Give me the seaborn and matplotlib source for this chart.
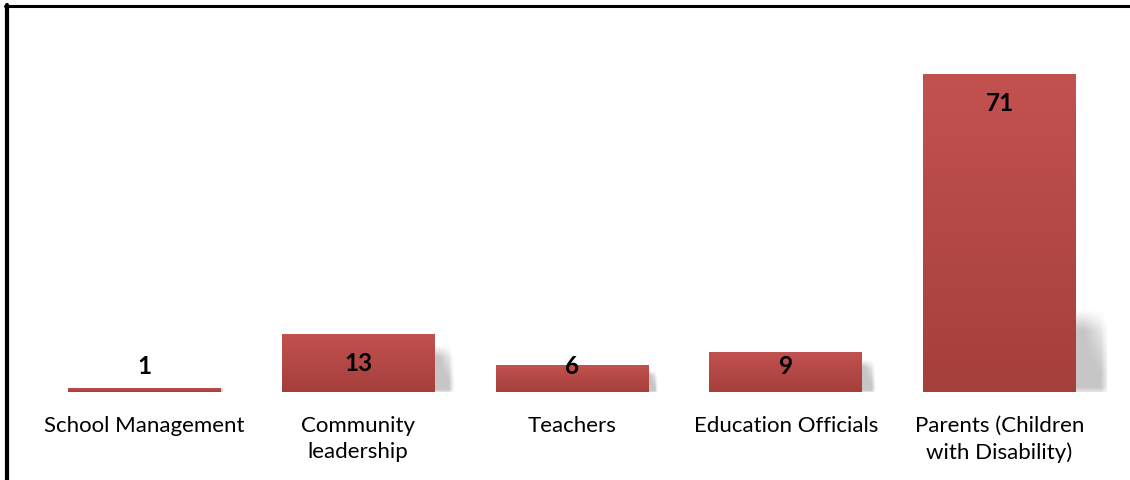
import numpy as np
import pandas as pd
import seaborn as sns
import matplotlib.pyplot as plt
from matplotlib.colors import LinearSegmentedColormap
from matplotlib.lines import Line2D

# Respondent groups and their counts
categories = [
    "School Management",
    "Community\nleadership",
    "Teachers",
    "Education Officials",
    "Parents (Children\nwith Disability)",
]
counts = [1, 13, 6, 9, 71]

sns.set_theme(style="white")
plt.rcParams["font.family"] = ["Lato", "DejaVu Sans"]

W, H = 1130, 480
fig = plt.figure(figsize=(W / 100, H / 100), dpi=100)
fig.patch.set_facecolor("white")
ax = fig.add_axes([37.6 / W, 88 / H, 1068.8 / W, 358.4 / H])

df = pd.DataFrame({"group": categories, "count": counts})
sns.barplot(data=df, x="group", y="count", color="#C0504D", saturation=1,
            width=0.715, ax=ax, zorder=3, edgecolor="none", linewidth=0)

XMAX, YMAX = 4.5, 80
ax.set_xlim(-0.5, XMAX)
ax.set_ylim(0, YMAX)

# vertical red gradient inside every bar
bar_cmap = LinearSegmentedColormap.from_list("bar", ["#A53F3C", "#C2524F"])
grad = np.linspace(0, 1, 256).reshape(-1, 1)
px_per_x = 1068.8 / 5
px_per_y = 358.4 / YMAX
for patch in ax.patches:
    x0, y0 = patch.get_x(), patch.get_y()
    w, h = patch.get_width(), patch.get_height()
    im = ax.imshow(grad, extent=[x0, x0 + w, y0, y0 + h], origin="lower",
                   aspect="auto", cmap=bar_cmap, zorder=4)
    im.set_clip_path(patch)

    # soft grey shadow falling to the right of the bar
    hs = min(h * 0.8, 18.5)
    ws = 0.42 * hs * px_per_y / px_per_x
    nx, ny = 60, 60
    u = np.linspace(0, 1, nx)[None, :]
    v = np.linspace(0, 1, ny)[:, None]
    fx = np.clip((1 - u) / 0.3, 0, 1) ** 1.2
    fy = np.clip((1 - v) / 0.25, 0, 1) * np.clip(v / 0.1 + 0.5, 0, 1)
    corner = np.clip(1.25 - (u * v * 1.5), 0, 1)
    alpha = 0.25 * fx * fy * corner
    rgba = np.zeros((ny, nx, 4))
    rgba[..., :3] = 0.1
    rgba[..., 3] = alpha
    ax.imshow(rgba, extent=[x0 + w, x0 + w + ws, 0, hs], origin="lower",
              aspect="auto", zorder=2, interpolation="bilinear")

ax.set_xlim(-0.5, XMAX)
ax.set_ylim(0, YMAX)

# value labels near the top of each bar
for i, val in enumerate(counts):
    ax.text(i, max(val - 6.7, 5.8), str(val), ha="center", va="center",
            fontsize=17.5, fontweight="bold", color="black", zorder=6)

ax.set_xlabel("")
ax.set_ylabel("")
ax.set_yticks([])
ax.tick_params(axis="x", length=0, pad=17, labelsize=16, colors="black")
for lbl in ax.get_xticklabels():
    lbl.set_linespacing(1.38)
for s in ax.spines.values():
    s.set_visible(False)

# outer frame: top and left rules
fig.add_artist(Line2D([5 / W, 1.0], [1 - 6 / H, 1 - 6 / H], color="black",
                      lw=2.2, transform=fig.transFigure))
fig.add_artist(Line2D([7 / W, 7 / W], [0, 1 - 5 / H], color="black",
                      lw=3.0, transform=fig.transFigure))

fig.savefig("out.png", dpi=100)
